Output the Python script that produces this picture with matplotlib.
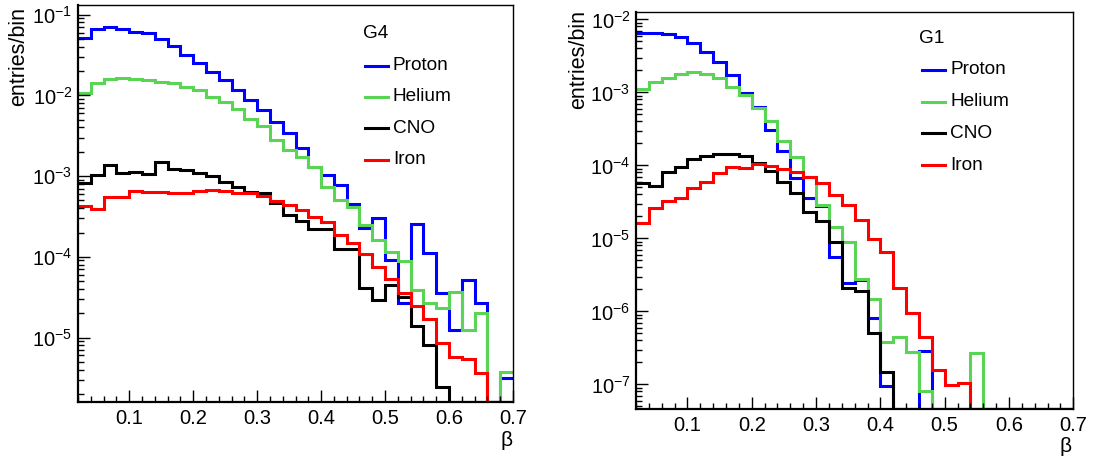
import numpy as np
import matplotlib
matplotlib.use("Agg")
import matplotlib.pyplot as plt
from matplotlib.lines import Line2D
from matplotlib.ticker import LogLocator, NullFormatter, MultipleLocator

plt.rcParams['font.family'] = ['Liberation Sans', 'DejaVu Sans']
plt.rcParams['mathtext.fontset'] = 'custom'
plt.rcParams['mathtext.rm'] = 'Liberation Sans'
plt.rcParams['mathtext.it'] = 'Liberation Sans:italic'
plt.rcParams['mathtext.bf'] = 'Liberation Sans:bold'

# ---------------- data ----------------
bin_edges = np.round(np.linspace(0.02, 0.70, 35), 2)
species = ["Proton", "Helium", "CNO", "Iron"]
colors = ["#0000ff", "#59d454", "#000000", "#ff0000"]

g4_proton = [0.0518, 0.0658, 0.0708, 0.0658, 0.0614, 0.0586, 0.0499, 0.0412, 0.0316, 0.0249,
             0.0196, 0.0155, 0.01165, 0.00875, 0.00658, 0.00471, 0.00345, 0.0022, 0.0013, 0.00103,
             7.74e-4, 4.5e-4, 2.25e-4, 2.99e-4, 9.1e-5, 2.64e-5, 2.54e-4, 1.10e-4, 3.58e-5, 1.24e-5,
             5.14e-5, 2.64e-5, 0, 3.11e-6]
g4_helium = [0.0106, 0.0141, 0.0158, 0.0165, 0.0159, 0.0155, 0.0148, 0.0141, 0.0128, 0.0116,
             0.0096, 0.00834, 0.0067, 0.00504, 0.00417, 0.00279, 0.0021, 0.00173, 0.0013, 7.36e-4,
             5.05e-4, 4.17e-4, 2.47e-4, 1.61e-4, 1.15e-4, 8.93e-5, 3.86e-5, 2.64e-5, 2.29e-5, 3.68e-5,
             1.24e-5, 2.02e-5, 0, 3.76e-6]
g4_cno = [8.1e-4, 1.03e-3, 1.37e-3, 1.08e-3, 1.13e-3, 1.06e-3, 1.5e-3, 1.24e-3, 1.19e-3, 1.08e-3,
          1.0e-3, 8.5e-4, 7.36e-4, 6.4e-4, 6.1e-4, 4.67e-4, 3.29e-4, 2.79e-4, 2.2e-4, 2.24e-4,
          1.24e-4, 1.24e-4, 4.05e-5, 2.9e-5, 4.46e-5, 3.19e-5, 1.4e-5, 8.05e-6, 2.45e-6, 0,
          0, 0, 0, 0]
g4_iron = [4.25e-4, 3.86e-4, 5.53e-4, 5.53e-4, 6.57e-4, 6.28e-4, 6.28e-4, 6.2e-4, 6.1e-4, 6.57e-4,
           6.7e-4, 6.57e-4, 6.2e-4, 6.1e-4, 5.7e-4, 4.9e-4, 4.37e-4, 3.8e-4, 3.13e-4, 2.72e-4,
           1.86e-4, 1.49e-4, 1.08e-4, 7.52e-5, 5.25e-5, 3.52e-5, 2.45e-5, 1.68e-5, 8.45e-6, 5.77e-6,
           5.36e-6, 3.59e-6, 0, 0]

g1_proton = [6.43e-3, 6.5e-3, 6.23e-3, 5.78e-3, 4.69e-3, 3.6e-3, 2.57e-3, 1.73e-3, 9.8e-4, 6.24e-4,
             3.05e-4, 1.57e-4, 6.7e-5, 3.53e-5, 2.77e-5, 5.6e-6, 2.42e-6, 2.68e-6, 8.0e-7, 9.5e-8,
             0, 0, 2.86e-7, 0, 0, 0, 0, 0, 0, 0,
             0, 0, 0, 0]
g1_helium = [1.13e-3, 1.37e-3, 1.58e-3, 1.78e-3, 1.92e-3, 1.78e-3, 1.56e-3, 1.19e-3, 9.2e-4, 6.15e-4,
             4.04e-4, 2.17e-4, 1.29e-4, 7.0e-5, 2.9e-5, 1.44e-5, 8.97e-6, 2.74e-6, 1.47e-6, 3.84e-7,
             4.49e-7, 2.8e-7, 8.2e-8, 0, 0, 0, 2.66e-7, 0, 0, 0,
             0, 0, 0, 0]
g1_cno = [5.66e-5, 5.26e-5, 8.2e-5, 9.6e-5, 1.21e-4, 1.34e-4, 1.43e-4, 1.43e-4, 1.36e-4, 1.09e-4,
          8.35e-5, 5.85e-5, 4.13e-5, 2.27e-5, 1.74e-5, 8.8e-6, 2.12e-6, 1.91e-6, 5.0e-7, 1.5e-7,
          0, 0, 0, 0, 0, 0, 0, 0, 0, 0,
          0, 0, 0, 0]
g1_iron = [1.64e-5, 2.58e-5, 3.27e-5, 3.53e-5, 4.84e-5, 5.96e-5, 7.76e-5, 9.4e-5, 9.1e-5, 1.03e-4,
           9.8e-5, 8.9e-5, 8.0e-5, 6.9e-5, 5.78e-5, 3.92e-5, 2.9e-5, 1.78e-5, 9.7e-6, 6.5e-6,
           2.07e-6, 9.4e-7, 4.49e-7, 1.55e-7, 9.8e-8, 1.05e-7, 0, 0, 0, 0,
           0, 0, 0, 0]

panels = [
    dict(title="G4", series=[g4_proton, g4_helium, g4_cno, g4_iron], ylim=(1.59e-6, 0.1316)),
    dict(title="G1", series=[g1_proton, g1_helium, g1_cno, g1_iron], ylim=(4.6e-8, 0.0125)),
]
xlim = (0.02, 0.70)
xlabel = "β"
ylabel = "entries/bin"

# ---------------- layout (pixels) ----------------
W, H = 1093, 463
fig = plt.figure(figsize=(W / 100, H / 100), dpi=100)

def fx(px):
    return px / W

def fy(py):
    return 1 - py / H

axes_px = [(78, 5, 513, 402), (636, 12.3, 1073.3, 409)]
ylabel_px = [(29, 7), (589, 10)]
xlabel_px = [(513, 431), (1072, 437)]
legend_px = [
    dict(title=(363, 34), x0=365, x1=388, tx=393, ys=[65.7, 96.7, 128.3, 160]),
    dict(title=(919, 38.5), x0=921.7, x1=945, tx=950, ys=[70, 101.7, 133.3, 165]),
]

for p, (l, t, r, b), ylp, xlp, lg in zip(panels, axes_px, ylabel_px, xlabel_px, legend_px):
    ax = fig.add_axes([fx(l), fy(b), fx(r) - fx(l), fy(t) - fy(b)])
    ax.set_yscale('log')
    ax.set_xlim(*xlim)
    ax.set_ylim(*p['ylim'])
    lo = p['ylim'][0]
    for vals, col in zip(p['series'], colors):
        v = np.asarray(vals, dtype=float)
        v = np.where(v > 0, v, lo)
        ax.stairs(v, bin_edges, color=col, linewidth=2.2, baseline=None)

    ax.xaxis.set_major_locator(MultipleLocator(0.1))
    ax.xaxis.set_minor_locator(MultipleLocator(0.02))
    ax.xaxis.set_major_formatter(matplotlib.ticker.FormatStrFormatter('%.1f'))
    ax.yaxis.set_major_locator(LogLocator(base=10, numticks=20))
    ax.yaxis.set_minor_locator(LogLocator(base=10, subs=np.arange(2, 10), numticks=100))
    ax.yaxis.set_minor_formatter(NullFormatter())
    ax.tick_params(which='both', direction='in', top=False, right=False, width=1.0,
                   labelsize=14.5, colors='black')
    ax.tick_params(which='major', length=8.6)
    ax.tick_params(which='minor', length=4.3)
    ax.tick_params(axis='x', pad=5)
    ax.tick_params(axis='y', pad=4)
    for s in ['left', 'bottom']:
        ax.spines[s].set_linewidth(1.6)
    for s in ['top', 'right']:
        ax.spines[s].set_linewidth(1.0)

    fig.text(fx(ylp[0]), fy(ylp[1]), ylabel, rotation=90, ha='right', va='top', fontsize=15.5)
    fig.text(fx(xlp[0]), fy(xlp[1]), xlabel, ha='right', va='top', fontsize=15)

    fig.text(fx(lg['title'][0]), fy(lg['title'][1]), p['title'], ha='left', va='center', fontsize=13.7)
    for name, col, yy in zip(species, colors, lg['ys']):
        fig.add_artist(Line2D([fx(lg['x0']), fx(lg['x1'])], [fy(yy), fy(yy)],
                              transform=fig.transFigure, color=col, linewidth=2.2))
        fig.text(fx(lg['tx']), fy(yy), name, ha='left', va='center', fontsize=13.7)

fig.savefig("out.png", dpi=100)
